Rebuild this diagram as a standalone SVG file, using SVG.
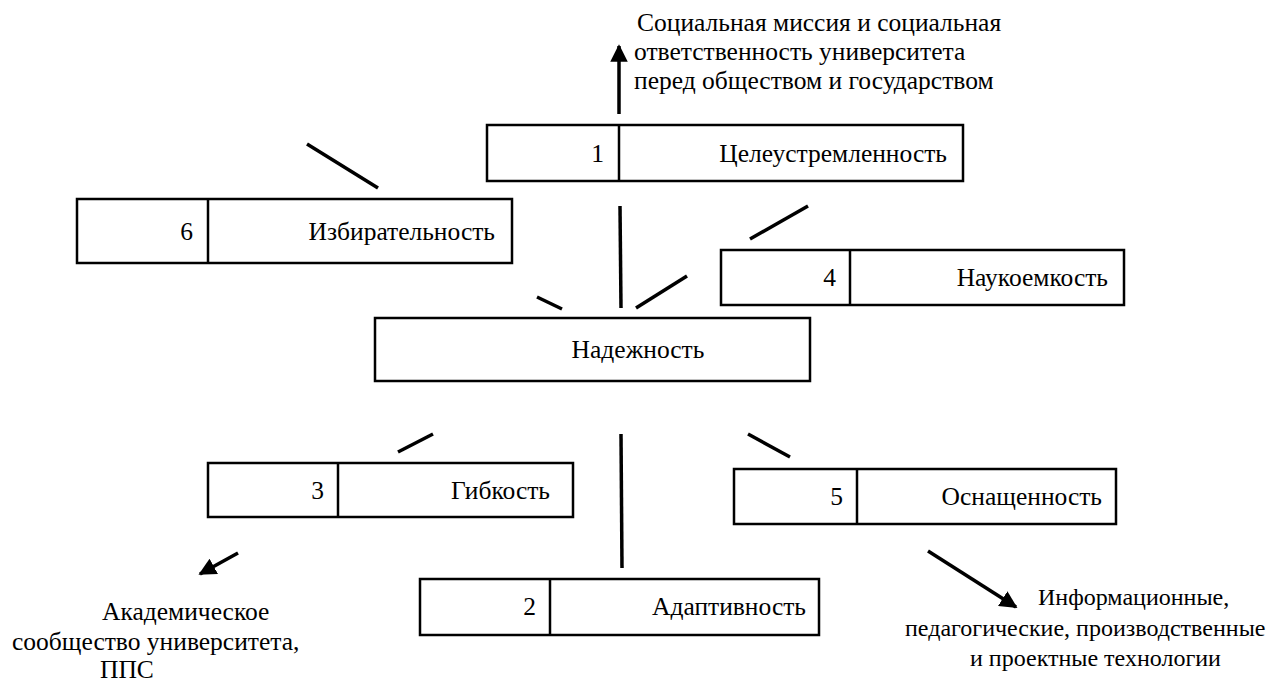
<svg xmlns="http://www.w3.org/2000/svg" width="1277" height="683" viewBox="0 0 1277 683">
<defs>
<style>
.box{fill:#fff;stroke:#000;stroke-width:2.5}
.div{stroke:#000;stroke-width:2.5}
.t{font-family:"Liberation Serif","Times New Roman",serif;font-size:25.5px;fill:#000}
.s{font-size:24px}
.e{text-anchor:end}
.m{text-anchor:middle}
.c{stroke:#000;stroke-width:3.5;fill:none}
</style>
<marker id="ah" markerWidth="5" markerHeight="5" refX="4.5" refY="2.5" orient="auto" markerUnits="strokeWidth">
<path d="M0,0 L5,2.5 L0,5 Z" fill="#000"/>
</marker>
</defs>
<rect width="1277" height="683" fill="#fff"/>
<g id="connectors">
<line class="c" x1="619" y1="114" x2="619" y2="46" marker-end="url(#ah)"/>
<line class="c" x1="307" y1="144" x2="378" y2="188"/>
<line class="c" x1="620" y1="206" x2="621" y2="308"/>
<line class="c" x1="750" y1="239" x2="808" y2="206"/>
<line class="c" x1="636" y1="308" x2="687" y2="276"/>
<line class="c" x1="537" y1="297" x2="562" y2="309"/>
<line class="c" x1="398" y1="452" x2="433" y2="434"/>
<line class="c" x1="621" y1="434" x2="622" y2="568"/>
<line class="c" x1="748" y1="434" x2="790" y2="457"/>
<line class="c" x1="238" y1="553" x2="200" y2="574" marker-end="url(#ah)"/>
<line class="c" x1="928" y1="551" x2="1016" y2="607" marker-end="url(#ah)"/>
</g>
<g id="note-top">
<text class="t" x="637" y="31">Социальная миссия и социальная</text>
<text class="t" x="634" y="60">ответственность университета</text>
<text class="t" x="634" y="89">перед обществом и государством</text>
</g>
<g id="node1">
<rect class="box" x="487" y="125" width="476" height="56"/>
<line class="div" x1="619" y1="125" x2="619" y2="181"/>
<text class="t e" x="604" y="162">1</text>
<text class="t e" x="947" y="162">Целеустремленность</text>
</g>
<g id="node6">
<rect class="box" x="77" y="199" width="435" height="64"/>
<line class="div" x1="208" y1="199" x2="208" y2="263"/>
<text class="t e" x="193" y="240">6</text>
<text class="t e" x="495" y="240">Избирательность</text>
</g>
<g id="node4">
<rect class="box" x="721" y="250" width="403" height="55"/>
<line class="div" x1="850" y1="250" x2="850" y2="305"/>
<text class="t e" x="836" y="286">4</text>
<text class="t e" x="1108" y="286">Наукоемкость</text>
</g>
<g id="node-center">
<rect class="box" x="375" y="318" width="435" height="63"/>
<text class="t m" x="638" y="358">Надежность</text>
</g>
<g id="node3">
<rect class="box" x="208" y="463" width="365" height="54"/>
<line class="div" x1="338" y1="463" x2="338" y2="517"/>
<text class="t e" x="324" y="499">3</text>
<text class="t e" x="550" y="499">Гибкость</text>
</g>
<g id="node5">
<rect class="box" x="734" y="469" width="382" height="55"/>
<line class="div" x1="857" y1="469" x2="857" y2="524"/>
<text class="t e" x="843" y="505">5</text>
<text class="t e" x="1102" y="505">Оснащенность</text>
</g>
<g id="node2">
<rect class="box" x="420" y="579" width="399" height="56"/>
<line class="div" x1="550" y1="579" x2="550" y2="635"/>
<text class="t e" x="536" y="615">2</text>
<text class="t e" x="806" y="615">Адаптивность</text>
</g>
<g id="note-left">
<text class="t" x="102" y="620">Академическое</text>
<text class="t" x="12" y="650">сообщество университета,</text>
<text class="t" x="100" y="678">ППС</text>
</g>
<g id="note-right">
<text class="t s" x="1038" y="605">Информационные,</text>
<text class="t s" x="905" y="636">педагогические, производственные</text>
<text class="t s" x="970" y="666">и проектные технологии</text>
</g>
</svg>
